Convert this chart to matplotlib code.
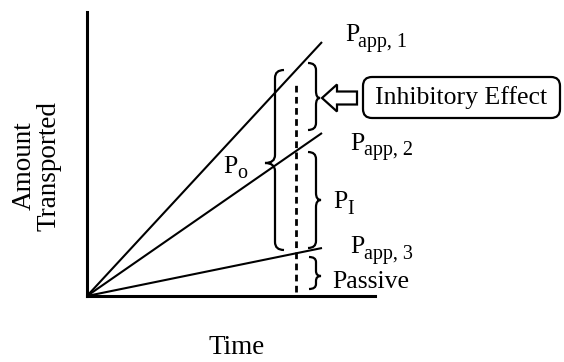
import matplotlib
matplotlib.use("Agg")
import matplotlib.pyplot as plt
from matplotlib.path import Path
from matplotlib.patches import PathPatch, FancyArrow, FancyBboxPatch

# ---- data (arbitrary units) ----
time_end = 235
amount_papp1 = 254
amount_papp2 = 163
amount_papp3 = 48
line_names = ["P$_{app,1}$", "P$_{app,2}$", "P$_{app,3}$"]
line_amounts = [amount_papp1, amount_papp2, amount_papp3]
measure_time = 209
x_max = 288
y_max = 284

FONT = "Liberation Serif"
plt.rcParams["font.family"] = [FONT, "DejaVu Serif"]

fig = plt.figure(figsize=(5.64, 3.62), dpi=100)
ax = fig.add_axes([87 / 564, (362 - 296) / 362, 288 / 564, 284 / 362])
ax.set_xlim(0, x_max)
ax.set_ylim(0, y_max)
for s in ["top", "right"]:
    ax.spines[s].set_visible(False)
for s in ["left", "bottom"]:
    ax.spines[s].set_linewidth(2.2)
ax.set_xticks([])
ax.set_yticks([])
ax.patch.set_alpha(0)

# lines
for amt in line_amounts:
    ax.plot([0, time_end], [0, amt], color="black", lw=1.5, clip_on=False,
            solid_capstyle="butt")

# dashed vertical line
ax.plot([measure_time, measure_time], [4, 214], color="black", lw=2.0,
        ls=(0, (2.4, 1.6)), clip_on=False)


def brace(x_end, x_body, x_tip, y0, y1, ym, r=6):
    s = 1 if y0 > y1 else -1
    verts = [
        (x_end, y0),
        (x_body, y0), (x_body, y0 - s * r),
        (x_body, ym + s * r),
        (x_body, ym), (x_tip, ym),
        (x_body, ym), (x_body, ym - s * r),
        (x_body, y1 + s * r),
        (x_body, y1), (x_end, y1),
    ]
    codes = [Path.MOVETO,
             Path.CURVE3, Path.CURVE3,
             Path.LINETO,
             Path.CURVE3, Path.CURVE3,
             Path.CURVE3, Path.CURVE3,
             Path.LINETO,
             Path.CURVE3, Path.CURVE3]
    ax.add_patch(PathPatch(Path(verts, codes), fill=False, ec="black",
                           lw=1.6, clip_on=False))


# Po brace (tip to left)
brace(197, 188, 178, 226, 46, 133, r=8)
# Inhibitory effect brace
brace(221, 229, 233, 233, 166, 198, r=7)
# P_I brace
brace(221, 229, 234, 144, 48, 96, r=7)
# Passive brace
brace(222, 229, 234, 39, 7, 20, r=5)

# hollow arrow
ax.add_patch(FancyArrow(270, 198, -35, 0, width=13, head_width=27,
                        head_length=15, length_includes_head=True,
                        fc="white", ec="black", lw=1.6, clip_on=False))

# rounded box
ax.add_patch(FancyBboxPatch((276, 178), 197, 41,
                            boxstyle="round,pad=0,rounding_size=9",
                            fc="white", ec="black", lw=1.6, clip_on=False))
ax.text(374.5, 198.5, "Inhibitory Effect", fontsize=18.5, ha="center",
        va="center", clip_on=False)

main_fs = 18.5
sub_fs = 14.5


def plabel(xp, yp, sub, xs, ys):
    ax.text(xp, yp, "P", fontsize=main_fs, ha="left", va="baseline",
            clip_on=False)
    ax.text(xs, ys, sub, fontsize=sub_fs, ha="left", va="baseline",
            clip_on=False)


plabel(258, 255, "app, 1", 271, 249)
plabel(263, 146, "app, 2", 277, 141)
plabel(263, 43, "app, 3", 277, 37)
plabel(246, 88, "I", 260, 82)
plabel(136, 123, "o", 150, 118)

ax.text(245, 8, "Passive", fontsize=main_fs, ha="left", va="baseline",
        clip_on=False)

# axis labels
ax.text(150, -51, "Time", fontsize=19.5, ha="center", va="center",
        clip_on=False)
ax.text(-50.5, 130, "Amount\nTransported", fontsize=19.5, ha="center",
        va="center", rotation=90, linespacing=0.95, clip_on=False)

fig.savefig("out.png", dpi=100)
